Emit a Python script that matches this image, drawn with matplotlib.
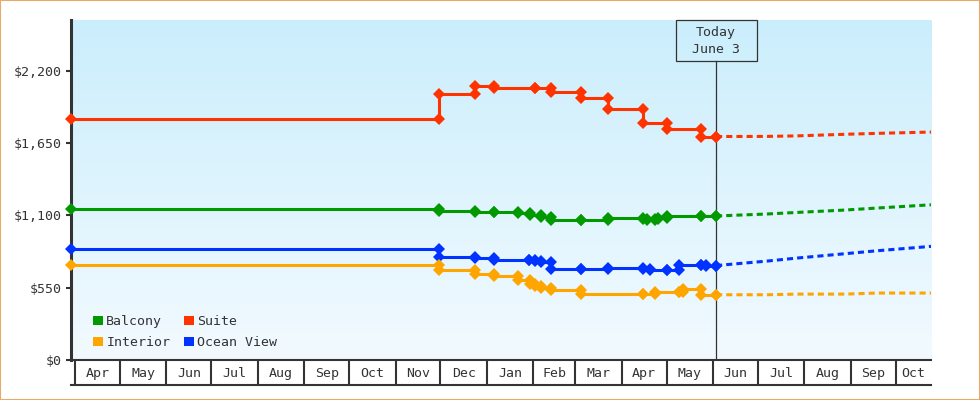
import numpy as np
import pandas as pd
import matplotlib
matplotlib.use("Agg")
import matplotlib.pyplot as plt
import matplotlib.dates as mdates
from matplotlib.colors import LinearSegmentedColormap
from matplotlib.patches import Patch, Rectangle
from matplotlib.transforms import blended_transform_factory

# ------------------------------------------------------------
# data
# ------------------------------------------------------------
start = "2022-03-29T08:00"
end = "2023-10-24T12:00"
today = "2023-06-03"

suite_dates = [start, "2022-11-30", "2022-12-24", "2023-01-06", "2023-02-02", "2023-02-13",
               "2023-03-05", "2023-03-23", "2023-04-15", "2023-05-01", "2023-05-24", today]
suite = [1834, 2024, 2086, 2067, 2067, 2037, 1990, 1912, 1801, 1755, 1699, 1699]

balcony_dates = [start, "2022-11-30", "2022-12-24", "2023-01-06", "2023-01-22", "2023-01-30",
                 "2023-02-06", "2023-02-13", "2023-03-05", "2023-03-23", "2023-04-15",
                 "2023-04-18", "2023-04-23", "2023-04-25", "2023-05-01", "2023-05-24", today]
balcony = [1150, 1131, 1127, 1125, 1117, 1099, 1088, 1064, 1064, 1076, 1070,
           1068, 1074, 1076, 1095, 1095, 1095]

ocean_dates = [start, "2022-11-30", "2022-12-24", "2023-01-06", "2023-01-29", "2023-02-02",
               "2023-02-06", "2023-02-13", "2023-03-05", "2023-03-23", "2023-04-15",
               "2023-04-20", "2023-05-01", "2023-05-09", "2023-05-24", "2023-05-27", today]
ocean = [846, 783, 775, 760, 758, 755, 745, 691, 691, 699, 693,
         686, 686, 724, 724, 718, 718]

interior_dates = [start, "2022-11-30", "2022-12-24", "2023-01-06", "2023-01-22", "2023-01-30",
                  "2023-02-02", "2023-02-06", "2023-02-13", "2023-03-05", "2023-04-15",
                  "2023-04-23", "2023-05-09", "2023-05-12", "2023-05-24", today]
interior = [722, 686, 653, 635, 605, 575, 559, 545, 534, 504, 504,
            514, 514, 540, 496, 496]

# projections after today
proj_dates = [today, "2023-07-07", "2023-07-27", "2023-08-28", "2023-09-18", end]
suite_proj = [1699, 1700, 1704, 1716, 1723, 1733]
balcony_proj = [1095, 1110, 1122, 1140, 1155, 1180]
ocean_proj = [718, 752, 775, 808, 830, 864]
interior_proj = [496, 496, 501, 501, 509, 509]

names = ["Balcony", "Interior", "Suite", "Ocean View"]
colors = {"Balcony": "#009900", "Interior": "#ffa500", "Suite": "#ff3300", "Ocean View": "#0033ff"}

yticks = [0, 550, 1100, 1650, 2200]
ytick_labels = ["$0", "$550", "$1,100", "$1,650", "$2,200"]
ymax = 2585

series = {
    "Suite": (suite_dates, suite, suite_proj),
    "Balcony": (balcony_dates, balcony, balcony_proj),
    "Ocean View": (ocean_dates, ocean, ocean_proj),
    "Interior": (interior_dates, interior, interior_proj),
}

# ------------------------------------------------------------
ink = "#333333"
mono = "DejaVu Sans Mono"
fs = 9.5

def to_dt(lst):
    return pd.to_datetime(lst, format="ISO8601")

fig = plt.figure(figsize=(9.8, 4.0), dpi=100)
ax = fig.add_axes([71 / 980, 40 / 400, 860 / 980, 340 / 400])

xmin, xmax = pd.Timestamp(start), pd.Timestamp(end)
ax.set_xlim(xmin, xmax)
ax.set_ylim(0, ymax)

# gradient background
cmap = LinearSegmentedColormap.from_list("bg", ["#f2faff", "#cbeefc"])
grad = np.linspace(0, 1, 256).reshape(-1, 1)
ax.imshow(grad, cmap=cmap, origin="lower", aspect="auto", extent=[0, 1, 0, 1],
          transform=ax.transAxes, zorder=0)

# step lines
for name, (d, v, p) in series.items():
    d = to_dt(d)
    xs, ys = [d[0]], [v[0]]
    for i in range(1, len(d)):
        xs += [d[i], d[i]]
        ys += [v[i - 1], v[i]]
    ax.plot(xs, ys, color=colors[name], lw=2.2, marker="D", ms=6.3, mew=0,
            clip_on=False, zorder=5)
    ax.plot(to_dt(proj_dates), p, color=colors[name], lw=2.2,
            linestyle=(0, (2, 1.33)), zorder=4)

# today marker
tday = pd.Timestamp(today)
blend = blended_transform_factory(ax.transData, ax.transAxes)
box_bottom = (360 - 61) / 340
ax.plot([tday, tday], [0, box_bottom], transform=blend, color=ink, lw=0.9, zorder=3)
half = pd.Timedelta(days=27)
ax.add_patch(Rectangle((mdates.date2num(tday - half), box_bottom), 54, 1 - box_bottom,
                       transform=blend, facecolor="none", edgecolor=ink, lw=0.9,
                       clip_on=False, zorder=6))
ax.text(tday, (360 - 41) / 340, "Today\nJune 3", transform=blend, ha="center", va="center",
        family=mono, fontsize=fs, color=ink, linespacing=1.35, zorder=6)

# axes styling
for s in ["top", "right"]:
    ax.spines[s].set_visible(False)
ax.spines["left"].set_linewidth(2.2)
ax.spines["left"].set_color(ink)
ax.spines["bottom"].set_linewidth(1.5)
ax.spines["bottom"].set_color(ink)
ax.spines["left"].set_zorder(4)

ax.set_yticks(yticks)
ax.set_yticklabels(ytick_labels, family=mono, fontsize=fs, color=ink)
ax.tick_params(axis="y", length=3.6, width=1.5, color=ink, pad=3)

# month boxes along the bottom
bounds = pd.date_range("2022-04-01", "2023-10-01", freq="MS")
ax.set_xticks(mdates.date2num(bounds))
ax.set_xticklabels([])
ax.tick_params(axis="x", which="major", length=17.6, width=1.5, color=ink)
centers, labels = [], []
for b in bounds:
    e = b + pd.offsets.MonthBegin(1)
    lo, hi = max(b, xmin), min(e, xmax)
    centers.append(mdates.date2num(lo) + (mdates.date2num(hi) - mdates.date2num(lo)) / 2)
    labels.append(b.strftime("%b"))
ax.set_xticks(centers, minor=True)
ax.set_xticklabels(labels, minor=True, family=mono, fontsize=fs, color=ink)
ax.tick_params(axis="x", which="minor", length=0, pad=5)
ax.plot([0, 1], [-25 / 340, -25 / 340], transform=ax.transAxes, color=ink, lw=1.5, clip_on=False)

# legend
handles = [Patch(facecolor=colors[n], edgecolor="none", label=n) for n in names]
ax.legend(handles=handles, ncol=2, loc="upper left", bbox_to_anchor=(22 / 860, 45 / 340),
          frameon=False, prop={"family": mono, "size": fs}, handlelength=0.76,
          handleheight=0.76, handletextpad=0.25, columnspacing=1.0, labelspacing=0.62,
          borderpad=0, borderaxespad=0, labelcolor=ink)

# figure border
fig.patches.append(Rectangle((0, 0), 1, 1, transform=fig.transFigure, fill=False,
                             edgecolor="#e9a96b", lw=1.5))

fig.savefig("out.png", dpi=100)
